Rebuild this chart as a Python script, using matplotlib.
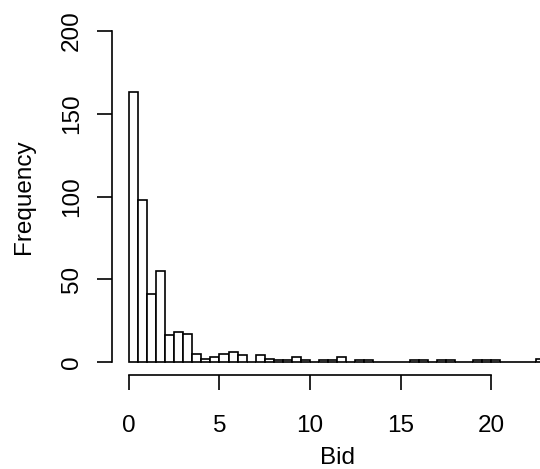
import matplotlib
matplotlib.use("Agg")
import matplotlib.pyplot as plt
import numpy as np

plt.rcParams['font.family'] = ['Liberation Sans', 'DejaVu Sans']

# Histogram of Bid (bin width 0.5)
bin_width = 0.5
bin_starts = [i * 0.5 for i in range(46)]
counts = [163, 98, 41, 55, 16, 18, 17, 5, 2, 3,
          5, 6, 4, 0, 4, 2, 1, 1, 3, 1,
          0, 1, 1, 3, 0, 1, 1, 0, 0, 0,
          0, 1, 1, 0, 1, 1, 0, 0, 1, 1,
          1, 0, 0, 0, 0, 2]
x_ticks = [0, 5, 10, 15, 20]
y_ticks = [0, 50, 100, 150, 200]
x_label = "Bid"
y_label = "Frequency"

W, H = 540, 469
fig = plt.figure(figsize=(W / 100, H / 100), dpi=100)

# plot region in pixels (R style, 4% extension)
xmin, xmax = -0.92, 23.92
ymin, ymax = -8, 208
px_left, px_right = 112.3, 562.0
py_bottom, py_top = 375.2, 17.8
ax = fig.add_axes([px_left / W, (H - py_bottom) / H,
                   (px_right - px_left) / W, (py_bottom - py_top) / H])
ax.set_xlim(xmin, xmax)
ax.set_ylim(ymin, ymax)

ax.bar(bin_starts, counts, width=bin_width, align='edge',
       facecolor='white', edgecolor='black', linewidth=1.2)

for s in ['top', 'right']:
    ax.spines[s].set_visible(False)
ax.spines['left'].set_bounds(y_ticks[0], y_ticks[-1])
ax.spines['bottom'].set_bounds(x_ticks[0], x_ticks[-1])
ax.spines['left'].set_linewidth(1.2)
ax.spines['bottom'].set_linewidth(1.2)

ax.set_xticks(x_ticks)
ax.set_yticks(y_ticks)
ax.tick_params(axis='both', direction='out', length=11, width=1.2,
               labelsize=17.5, colors='black')
ax.tick_params(axis='x', pad=18)
ax.tick_params(axis='y', pad=10)
for lab in ax.get_yticklabels():
    lab.set_rotation(90)
    lab.set_va('center')

ax.set_xlabel(x_label, fontsize=17.5, labelpad=7)
ax.set_ylabel(y_label, fontsize=17.5, labelpad=19)

fig.savefig("out.png", dpi=100)
